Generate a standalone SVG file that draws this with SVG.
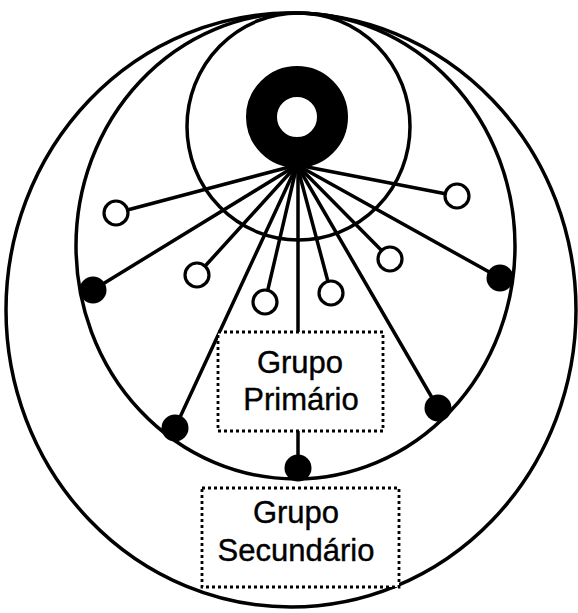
<svg xmlns="http://www.w3.org/2000/svg" width="578" height="613" viewBox="0 0 578 613">
<style>
.ring{fill:none;stroke:#000;stroke-width:3.5}
.ln{stroke:#000;stroke-width:3.5;stroke-linecap:round}
.open{fill:#fff;stroke:#000;stroke-width:3.2}
.dot{fill:#000}
.box{fill:#fff;stroke:#000;stroke-width:2.8;stroke-dasharray:3 3}
.lbl{font-family:"Liberation Sans",Arial,sans-serif;font-size:31px;fill:#000;stroke:#000;stroke-width:0.4;text-anchor:middle}
</style>
<rect width="578" height="613" fill="#fff"/>
<g id="circles">
<ellipse class="ring" cx="291" cy="310" rx="285" ry="297"/>
<ellipse class="ring" cx="295.5" cy="246" rx="219.5" ry="233"/>
<ellipse class="ring" cx="298.5" cy="126.5" rx="111.5" ry="113.5"/>
</g>
<g id="connectors">
<line class="ln" x1="297" y1="165" x2="116" y2="213"/>
<line class="ln" x1="297" y1="165" x2="93" y2="290"/>
<line class="ln" x1="297" y1="165" x2="197" y2="275"/>
<line class="ln" x1="297" y1="165" x2="175" y2="428"/>
<line class="ln" x1="297" y1="165" x2="265" y2="302"/>
<line class="ln" x1="298" y1="165" x2="298" y2="332"/>
<line class="ln" x1="297" y1="165" x2="331" y2="293"/>
<line class="ln" x1="297" y1="165" x2="438" y2="408"/>
<line class="ln" x1="297" y1="165" x2="390" y2="259"/>
<line class="ln" x1="297" y1="165" x2="500" y2="278"/>
<line class="ln" x1="297" y1="165" x2="457" y2="196"/>
<line class="ln" x1="298" y1="431" x2="298" y2="468"/>
</g>
<g id="center">
<circle cx="297" cy="117" r="35.5" fill="none" stroke="#000" stroke-width="31"/>
</g>
<g id="open-nodes">
<circle class="open" cx="116" cy="213" r="12"/>
<circle class="open" cx="197" cy="275" r="12"/>
<circle class="open" cx="265" cy="302" r="12"/>
<circle class="open" cx="331" cy="293" r="12"/>
<circle class="open" cx="390" cy="259" r="12"/>
<circle class="open" cx="457" cy="196" r="12"/>
</g>
<g id="filled-nodes">
<circle class="dot" cx="93" cy="290" r="13.5"/>
<circle class="dot" cx="500" cy="278" r="13.5"/>
<circle class="dot" cx="175" cy="428" r="13.5"/>
<circle class="dot" cx="438" cy="408" r="13.5"/>
<circle class="dot" cx="298" cy="468" r="13.5"/>
</g>
<g id="grupo-primario">
<rect class="box" x="218" y="332" width="165" height="99"/>
<text class="lbl" x="300" y="373">Grupo</text>
<text class="lbl" x="301" y="410">Primário</text>
</g>
<g id="grupo-secundario">
<rect class="box" x="202" y="488" width="197" height="99"/>
<text class="lbl" x="296" y="523">Grupo</text>
<text class="lbl" x="296" y="561">Secundário</text>
</g>
</svg>
